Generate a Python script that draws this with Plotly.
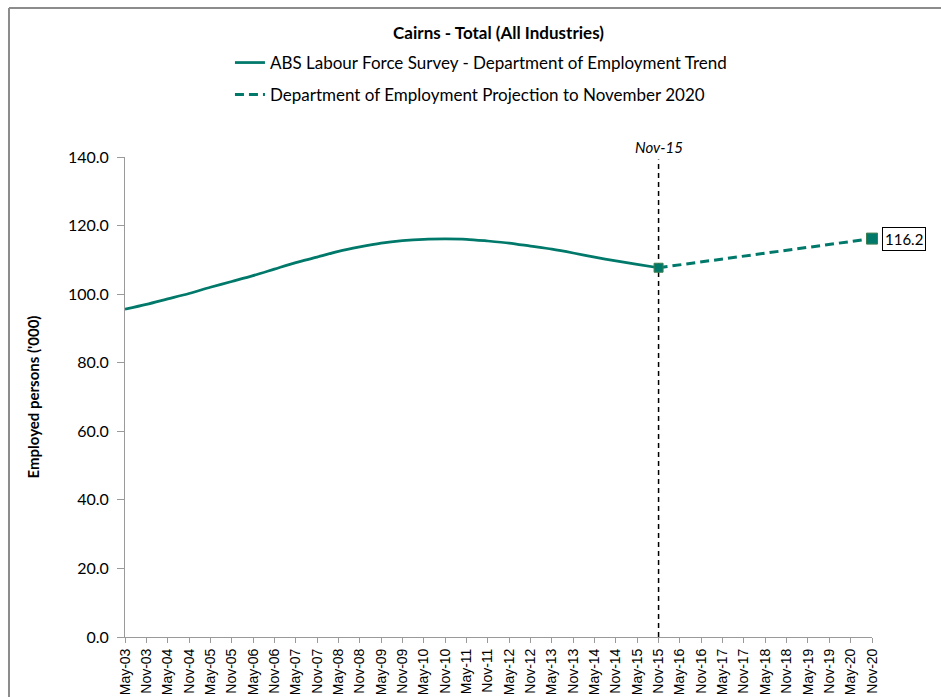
import plotly.graph_objects as go

# ---------------- data ----------------
tick_labels = []
for yr in range(3, 21):
    tick_labels.append(f"May-{yr:02d}")
    tick_labels.append(f"Nov-{yr:02d}")

trend_labels = tick_labels[:26]  # May-03 .. Nov-15
trend_values = [95.6, 97.0, 98.6, 100.2, 102.0, 103.7, 105.4, 107.3, 109.2, 110.8,
                112.5, 113.8, 114.9, 115.6, 116.0, 116.1, 116.0, 115.5, 114.9, 114.0,
                113.1, 112.0, 110.8, 109.7, 108.7, 107.7]

proj_labels = ["Nov-15", "Nov-20"]
proj_values = [107.7, 116.2]

marker_sizes = [9, 11]
end_label = "116.2"
divider_label = "Nov-15"

TEAL = "#00796B"
BODY_FONT = "Lato"
TICK_FONT = "Liberation Sans"

fig = go.Figure()

fig.add_trace(go.Scatter(
    x=trend_labels, y=trend_values, mode="lines",
    line=dict(color=TEAL, width=2.75, shape="spline", smoothing=0.8),
    name="ABS Labour Force Survey - Department of Employment Trend",
    legend="legend",
))
fig.add_trace(go.Scatter(
    x=proj_labels, y=proj_values, mode="lines",
    line=dict(color=TEAL, width=3, dash="9px,5px"),
    name="Department of Employment Projection to November 2020",
    legend="legend2",
))
fig.add_trace(go.Scatter(
    x=proj_labels, y=proj_values, mode="markers", cliponaxis=False,
    marker=dict(symbol="square", size=marker_sizes, color=TEAL, opacity=1,
                line=dict(color="#3F7F4F", width=1)),
    showlegend=False, hoverinfo="skip",
))

# divider line at Nov-15
fig.add_shape(type="line", xref="x", yref="y",
              x0=tick_labels.index(divider_label), x1=tick_labels.index(divider_label),
              y0=0, y1=139.3,
              line=dict(color="black", width=1.5, dash="5px,4px"), layer="below")

fig.add_annotation(x=tick_labels.index(divider_label), y=140, xref="x", yref="y",
                   text=f"<i>{divider_label}</i>", showarrow=False,
                   yanchor="bottom", yshift=-1,
                   font=dict(family=BODY_FONT, size=15, color="black"))

# end value label
fig.add_annotation(x=tick_labels.index(proj_labels[-1]), y=proj_values[-1],
                   xref="x", yref="y", text=end_label, showarrow=False,
                   xanchor="left", xshift=10,
                   bordercolor="black", borderwidth=1, borderpad=2, bgcolor="white",
                   font=dict(family=BODY_FONT, size=15, color="black"))

# outer frame (top & left edges of the chart area)
frame_col = "#8C8C8C"
fig.add_shape(type="line", xref="paper", yref="paper",
              x0=-0.1553, x1=1.2, y0=1.3104, y1=1.3104,
              line=dict(color=frame_col, width=2))
fig.add_shape(type="line", xref="paper", yref="paper",
              x0=-0.1553, x1=-0.1553, y0=-0.2, y1=1.3104,
              line=dict(color=frame_col, width=2))

fig.update_layout(
    width=941, height=697,
    margin=dict(l=125, r=69, t=157, b=60, autoexpand=False),
    paper_bgcolor="white", plot_bgcolor="white",
    title=dict(text="<b>Cairns - Total (All Industries)</b>",
               x=0.5, xref="paper", xanchor="center",
               y=1 - 33 / 697, yanchor="middle",
               font=dict(family=BODY_FONT, size=17, color="black")),
    legend=dict(x=0.1405, xanchor="left", y=(637 - 63) / 480, yanchor="middle",
                font=dict(family=BODY_FONT, size=17, color="black"),
                bgcolor="rgba(0,0,0,0)"),
    legend2=dict(x=0.1405, xanchor="left", y=(637 - 95) / 480, yanchor="middle",
                 font=dict(family=BODY_FONT, size=17, color="black"),
                 bgcolor="rgba(0,0,0,0)"),
    showlegend=True,
)

fig.update_xaxes(
    type="category", categoryorder="array", categoryarray=tick_labels,
    range=[0, len(tick_labels) - 1], automargin=False,
    tickmode="array", tickvals=tick_labels, ticktext=tick_labels,
    tickangle=-90, ticks="outside", ticklen=5, tickcolor="#9a9a9a",
    showline=True, linecolor="#9a9a9a", linewidth=1,
    showgrid=False, zeroline=False,
    tickfont=dict(family=TICK_FONT, size=14, color="black"),
)
fig.update_yaxes(
    range=[0, 140], tickmode="array", tickvals=[0, 20, 40, 60, 80, 100, 120, 140],
    ticktext=["0.0", "20.0", "40.0", "60.0", "80.0", "100.0", "120.0", "140.0"],
    automargin=False,
    ticks="outside", ticklen=7, tickcolor="#9a9a9a", ticklabelstandoff=5,
    showline=True, linecolor="#9a9a9a", linewidth=1,
    showgrid=False, zeroline=False,
    tickfont=dict(family=BODY_FONT, size=16, color="black"),
    title=dict(text="<b>Employed persons ('000)</b>", standoff=24,
               font=dict(family=BODY_FONT, size=15, color="black")),
)

fig.write_html("out.html")
